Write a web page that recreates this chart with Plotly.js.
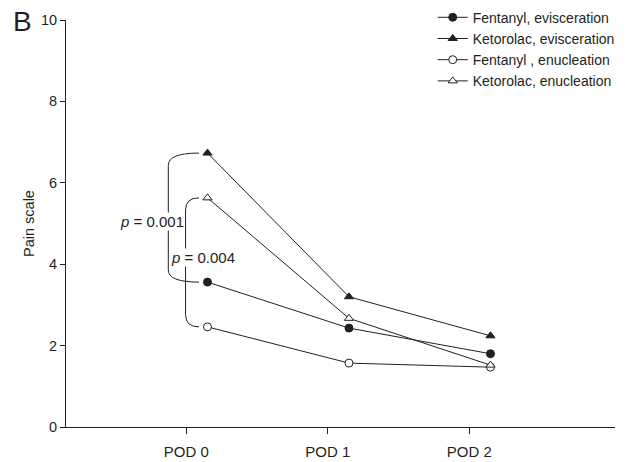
<!DOCTYPE html>
<html>
<head>
<meta charset="utf-8">
<script src="https://cdn.plot.ly/plotly-3.0.1.min.js"></script>
<style>html,body{margin:0;padding:0;background:#fff;}#chart{width:636px;height:462px;}</style>
</head>
<body>
<div id="chart"></div>
<script>
// Categories (post-operative day) and where each is drawn on the numeric x axis
const podLabels = ["POD 0", "POD 1", "POD 2"];
const podTicks = [0, 1, 2];
const podX = [0.15, 1.15, 2.15];   // data points sit slightly right of the tick marks

// Series (mean pain scale)
const fentanylEvisceration = [3.56, 2.43, 1.80];
const ketorolacEvisceration = [6.73, 3.20, 2.24];
const fentanylEnucleation = [2.46, 1.57, 1.47];
const ketorolacEnucleation = [5.63, 2.67, 1.52];

const seriesNames = ["Fentanyl, evisceration", "Ketorolac, evisceration", "Fentanyl , enucleation", "Ketorolac, enucleation"];

// p-values for POD 0 comparisons
const pEvisceration = "0.001";
const pEnucleation = "0.004";

const FONT = "Liberation Sans, Arial, Helvetica, sans-serif";
const INK = "#231f20";

function trace(name, y, symbol, filled) {
  return {
    type: "scatter", mode: "lines+markers", name: name,
    x: podX, y: y,
    line: {color: INK, width: 1},
    marker: {symbol: symbol, size: 8, color: filled ? INK : "#ffffff", line: {color: INK, width: 1}},
    cliponaxis: false
  };
}

const data = [
  trace(seriesNames[0], fentanylEvisceration, "circle", true),
  trace(seriesNames[1], ketorolacEvisceration, "triangle-up", true),
  trace(seriesNames[2], fentanylEnucleation, "circle", false),
  trace(seriesNames[3], ketorolacEnucleation, "triangle-up", false)
];

// Bracket helper: curved bracket from point (end, yTop) to (end, yBot) with spine at xs
function bracket(xs, xe, yTop, yBot, bend) {
  return {
    type: "path", xref: "x", yref: "y",
    path: `M ${xe},${yTop} Q ${xs},${yTop} ${xs},${yTop - bend} L ${xs},${yBot + bend} Q ${xs},${yBot} ${xe},${yBot}`,
    line: {color: INK, width: 1}
  };
}

const layout = {
  width: 636, height: 462,
  margin: {l: 66, r: 21, t: 20, b: 35, autoexpand: false},
  paper_bgcolor: "#fff", plot_bgcolor: "#fff",
  font: {family: FONT, color: INK, size: 14},
  showlegend: true,
  legend: {
    x: 0.668, y: 1.045, xanchor: "left", yanchor: "top",
    font: {family: FONT, size: 14, color: INK},
    bgcolor: "rgba(0,0,0,0)", tracegroupgap: 0, itemwidth: 30
  },
  xaxis: {
    range: [-0.85, 3.03], tickvals: podTicks, ticktext: podLabels,
    showgrid: false, zeroline: false, showline: true, linecolor: INK, linewidth: 1,
    ticks: "outside", ticklen: 6, tickcolor: INK, tickfont: {size: 15},
    ticklabelstandoff: 5
  },
  yaxis: {
    range: [0, 10], dtick: 2, showgrid: false, zeroline: false,
    showline: true, linecolor: INK, linewidth: 1,
    ticks: "outside", ticklen: 5, tickcolor: INK, tickfont: {size: 14.5},
    title: {text: "Pain scale", font: {size: 14.5}, standoff: 2}
  },
  shapes: [
    bracket(-0.127, 0.09, ketorolacEvisceration[0], fentanylEvisceration[0], 0.3),
    bracket(-0.005, 0.09, ketorolacEnucleation[0], fentanylEnucleation[0], 0.3)
  ],
  annotations: [
    {xref: "x", yref: "y", x: -0.24, y: 5.04, text: "<i>p</i> = " + pEvisceration, showarrow: false,
     font: {size: 15}, bgcolor: "#fff", borderpad: 0},
    {xref: "x", yref: "y", x: 0.12, y: 4.16, text: "<i>p</i> = " + pEnucleation, showarrow: false,
     font: {size: 15}, bgcolor: "#fff", borderpad: 0},
    {xref: "paper", yref: "paper", x: -0.1, y: 1.04, xanchor: "left", yanchor: "top",
     text: "B", showarrow: false, font: {size: 28}}
  ]
};

Plotly.newPlot("chart", data, layout, {displayModeBar: false, staticPlot: true});
</script>
</body>
</html>
